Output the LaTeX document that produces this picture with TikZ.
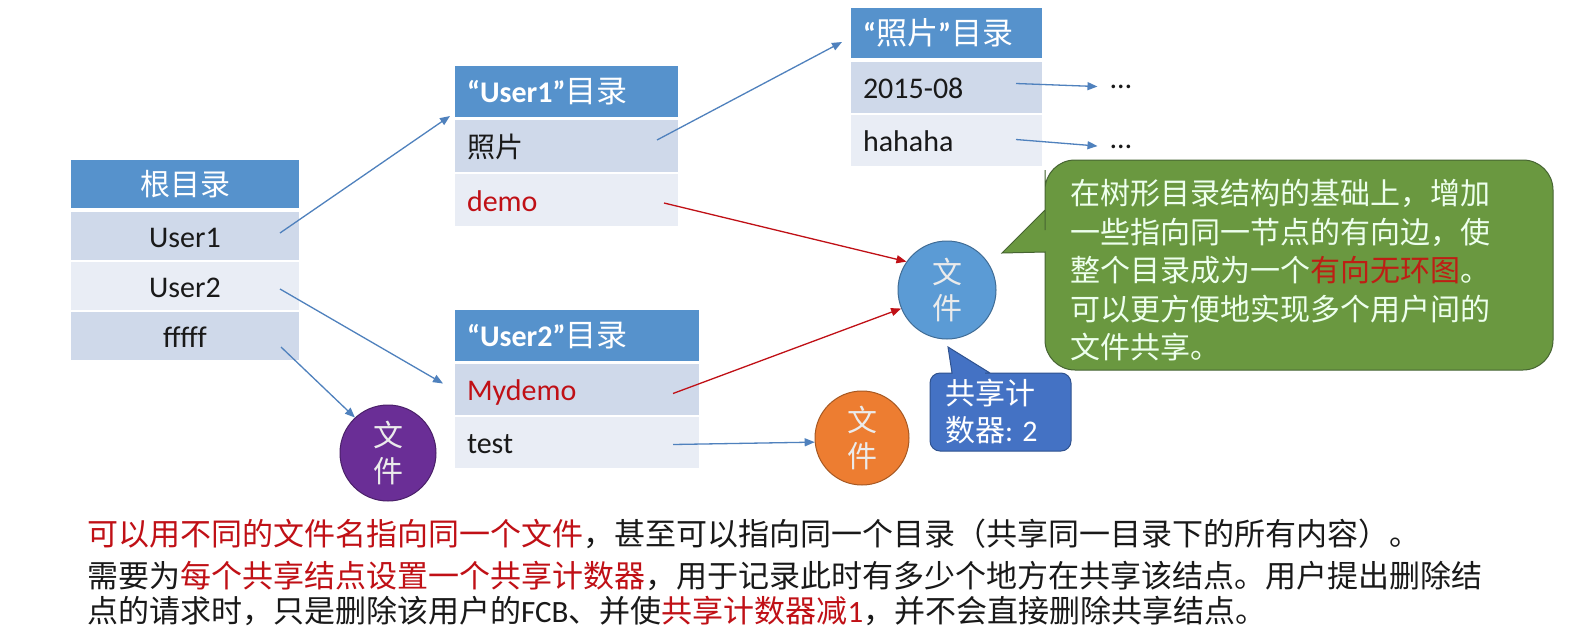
\documentclass[tikz,border=0pt]{standalone}
\usepackage{fontspec}
\setmainfont{Carlito}
\newfontfamily\cjk{Noto Sans CJK SC}
\usetikzlibrary{arrows.meta,calc}
\definecolor{hdr}{RGB}{86,146,204}
\definecolor{rowd}{RGB}{207,217,234}
\definecolor{rowl}{RGB}{233,237,245}
\definecolor{arrb}{RGB}{79,129,189}
\definecolor{darkred}{RGB}{192,16,22}
\definecolor{gred}{RGB}{190,30,20}
\definecolor{greenc}{RGB}{106,152,64}
\definecolor{greenb}{RGB}{70,100,50}
\definecolor{bluec}{RGB}{68,114,196}
\definecolor{blueb}{RGB}{47,82,143}
\definecolor{fileblue}{RGB}{91,155,213}
\definecolor{fileorange}{RGB}{237,125,49}
\definecolor{filepurple}{RGB}{106,46,150}
\definecolor{txt}{RGB}{25,25,25}
\newcommand\fsz[1]{\fontsize{#1pt}{#1pt}\selectfont}
\begin{document}
\begin{tikzpicture}[x=1pt,y=-1pt,
  cellbase/.style={anchor=north west, inner ysep=0pt, outer sep=0pt, text=txt, text height=26pt, text depth=4pt},
  hdrcell/.style={cellbase, fill=hdr, text=white},
  dcell/.style={cellbase, fill=rowd},
  lcell/.style={cellbase, fill=rowl},
  ctr/.style={inner xsep=0pt, align=center},
  lft/.style={inner xsep=12pt, align=left},
  barrow/.style={draw=arrb, line width=1.3pt, -{Triangle[length=10pt,width=8pt]}},
  rarrow/.style={draw=darkred, line width=1.3pt, -{Triangle[length=10pt,width=8pt]}},
  filenode/.style={circle, draw=#1!70!black, fill=#1, line width=1pt, text=white!92!black, align=center, font=\cjk\fontsize{30pt}{36pt}\selectfont, inner sep=0pt},
  greentxt/.style={anchor=base west, inner sep=0pt, text=white!93!green, font=\cjk\fsz{30}},
  bluetxt/.style={anchor=base west, inner sep=0pt, text=white, font=\cjk\fsz{30}},
  btxt/.style={anchor=base west, inner sep=0pt, text=txt, font=\cjk\fsz{31}},
  dotsnode/.style={inner sep=1pt, text=txt, font=\fsz{30}}
]
\useasboundingbox (0,0) rectangle (1574,635);
\fill[white] (0,0) rectangle (1574,635);

% root table
\node[hdrcell,ctr,text width=228pt,minimum height=48pt] (rootH) at (71,160) {\cjk\fsz{30}根目录};
\node[dcell,ctr,text width=228pt,minimum height=48pt] (rU1) at (71,212) {\fsz{30}User1};
\node[lcell,ctr,text width=228pt,minimum height=48pt] (rU2) at (71,262) {\fsz{30}User2};
\node[dcell,ctr,text width=228pt,minimum height=48pt] (rF) at (71,312) {\fsz{30}fffff};

% User1 table
\node[hdrcell,lft,text width=199pt,minimum height=51pt] (u1H) at (455,66) {\fsz{30}\bfseries “User1”{\cjk\mdseries\fsz{31}目录}};
\node[dcell,lft,text width=199pt,minimum height=52pt] (u1P) at (455,120) {\cjk\fsz{28}照片};
\node[lcell,lft,text width=199pt,minimum height=52pt,text=darkred] (u1D) at (455,174) {\fsz{30}demo};

% photo table
\node[hdrcell,lft,text width=167pt,minimum height=50pt] (phH) at (851,8) {\fsz{30}\bfseries “{\cjk\mdseries\fsz{31}照片}”{\cjk\mdseries\fsz{31}目录}};
\node[dcell,lft,text width=167pt,minimum height=51pt] (ph1) at (851,62) {\fsz{30}2015-08};
\node[lcell,lft,text width=167pt,minimum height=51pt] (ph2) at (851,115) {\fsz{30}hahaha};
\node[dotsnode] (dots1) at (1121,87) {…};
\node[dotsnode] (dots2) at (1121,147) {…};

% User2 table
\node[hdrcell,lft,text width=220pt,minimum height=51pt] (u2H) at (455,310) {\fsz{30}\bfseries “User2”{\cjk\mdseries\fsz{31}目录}};
\node[dcell,lft,text width=220pt,minimum height=51pt,text=darkred] (u2M) at (455,364) {\fsz{30}Mydemo};
\node[lcell,lft,text width=220pt,minimum height=51pt] (u2T) at (455,417) {\fsz{30}test};

% file circles
\node[filenode=fileblue, minimum size=98pt] (fileB) at (947,290) {文\\件};
\node[filenode=fileorange, minimum size=94pt] (fileO) at (862,438) {文\\件};
\node[filenode=filepurple, minimum size=96pt] (fileP) at (388,453) {文\\件};

% arrows
\draw[barrow] ($(rU1.east)+(-19,-3)$) -- ($(u1H.south west)+(-5,-1)$);
\draw[barrow] ($(rU2.east)+(-19,3)$) -- ($(u2M.west)+(-12,-6)$);
\draw[barrow] ($(rF.east)+(-18,11)$) -- (fileP.133);
\draw[barrow] ($(u1P.east)+(-21,-6)$) -- ($(phH.west)+(-9,9)$);
\draw[barrow,shorten >=12pt] ($(ph1.east)+(-26,-4)$) -- (dots1.west);
\draw[barrow,shorten >=12pt] ($(ph2.east)+(-26,-1)$) -- (dots2.west);
\draw[rarrow] ($(u1D.east)+(-14,3)$) -- (fileB.145);
\draw[rarrow] ($(u2M.east)+(-26,4)$) -- (fileB.202);
\draw[barrow] ($(u2T.east)+(-26,2)$) -- (fileO.185);

% green callout
\path[fill=greenc, draw=greenb, line width=1pt] (1045,300) [rounded corners=30pt] -- (1045,370) -- (1553,370) -- (1553,160) -- (1045,160) -- (1045,200) [sharp corners] -- (1045,210) -- (1002,253) -- (1045,252) -- (1045,270) -- cycle;
\node[greentxt] (g1) at (1070,204) {在树形目录结构的基础上，增加};
\node[greentxt] (g2) at (1070,243) {一些指向同一节点的有向边，使};
\node[greentxt] (g3) at (1070,281) {整个目录成为一个{\color{gred}有向无环图}。};
\node[greentxt] (g4) at (1070,320) {可以更方便地实现多个用户间的};
\node[greentxt] (g5) at (1070,358) {文件共享。};

% blue callout
\path[fill=bluec, draw=blueb, line width=1pt] (1000,451) [rounded corners=10pt] -- (1071,451) -- (1071,373) -- (1000,373) -- (995,373) [sharp corners] -- (990,373) -- (948,347) -- (952,373) -- (945,373) [rounded corners=10pt] -- (930,373) -- (930,451) -- cycle;
\node[bluetxt] (c1) at (945,404) {共享计};
\node[bluetxt] (c2) at (945,441) {数器{\rmfamily : 2}};

% bottom text
\node[btxt] (b1) at (87,545) {{\color{darkred}可以用不同的文件名指向同一个文件}，甚至可以指向同一个目录（共享同一目录下的所有内容）。};
\node[btxt] (b2) at (87,587) {需要为{\color{darkred}每个共享结点设置一个共享计数器}，用于记录此时有多少个地方在共享该结点。用户提出删除结};
\node[btxt] (b3) at (87,622) {点的请求时，只是删除该用户的{\rmfamily FCB}、并使{\color{darkred}共享计数器减{\rmfamily 1}}，并不会直接删除共享结点。};
\end{tikzpicture}
\end{document}
